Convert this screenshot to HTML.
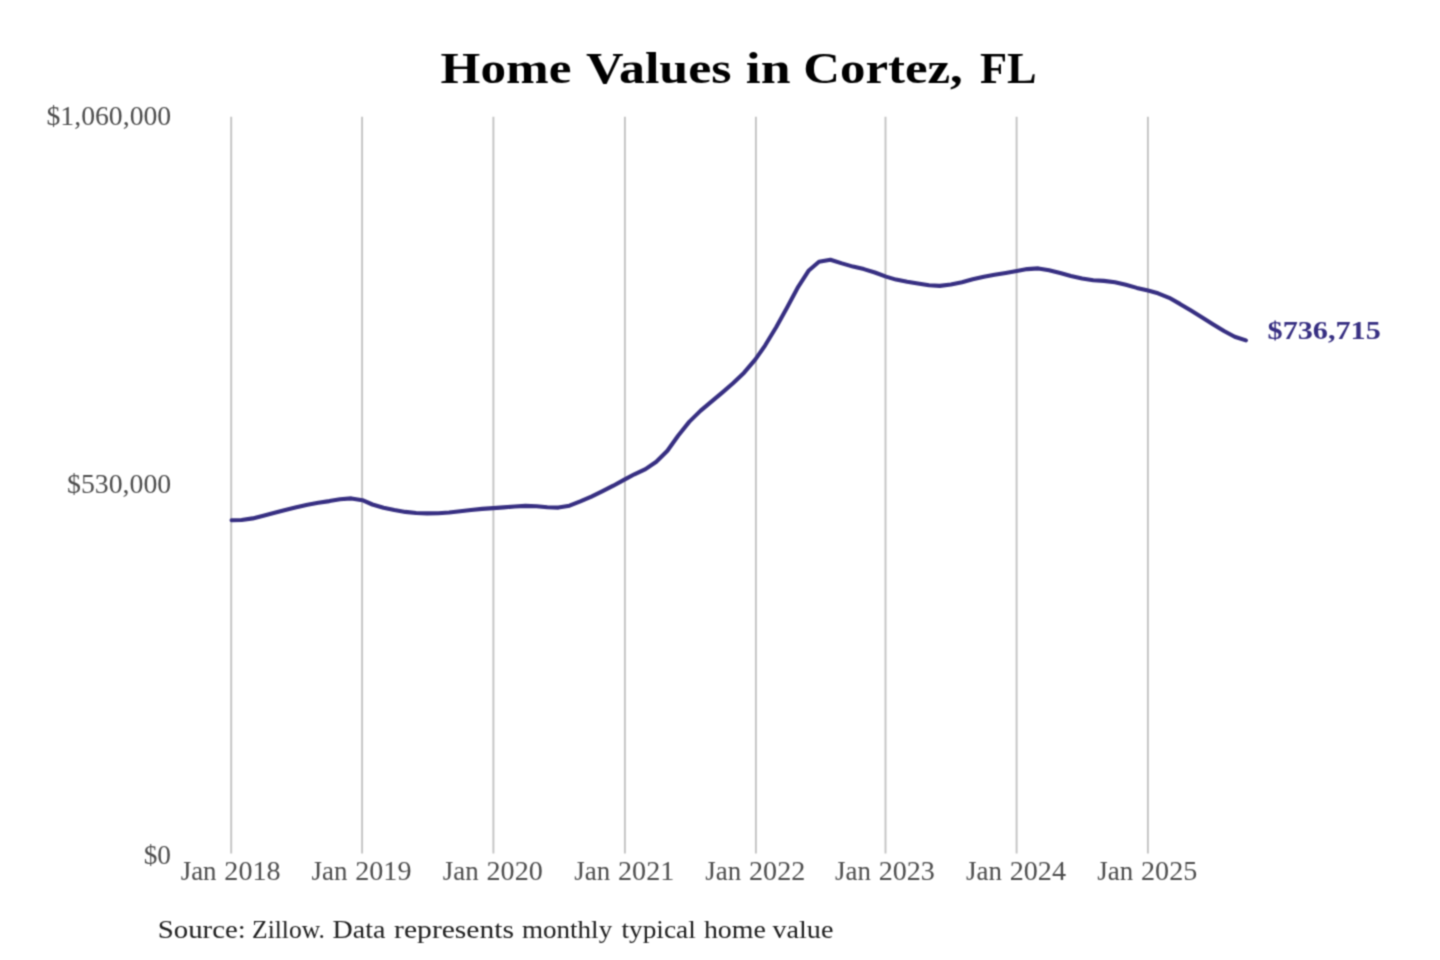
<!DOCTYPE html>
<html lang="en">
<head>
<meta charset="utf-8">
<title>Home Values in Cortez, FL</title>
<style>
  html, body { margin: 0; padding: 0; background: #ffffff; }
  body { width: 1440px; height: 960px; overflow: hidden; position: relative; font-family: "Liberation Serif", serif; }
  svg { display: block; position: absolute; left: 0; top: 0; }
  text { font-family: "Liberation Serif", serif; white-space: pre; }
  .grid line { stroke: #c3c3c3; stroke-width: 1.9; }
  .tick { fill: #4d4d4d; font-size: 26.5px; }
  .title { fill: #000000; font-weight: bold; font-size: 44px; }
  .src { fill: #202020; font-size: 26px; }
  .endlab { fill: #372f82; font-weight: bold; font-size: 25px; }
  .series { fill: none; stroke: #372f82; stroke-width: 4.1; stroke-linecap: round; stroke-linejoin: round; }
</style>
</head>
<body>
<svg width="1440" height="960" viewBox="0 0 1440 960">
  <defs>
    <!-- gentle 3x3 softening to mimic the resampled look of the source image -->
    <filter id="soft" x="0" y="0" width="1440" height="960" filterUnits="userSpaceOnUse" color-interpolation-filters="sRGB">
      <feConvolveMatrix order="3" kernelMatrix="0.0439 0.1217 0.0439 0.1217 0.3377 0.1217 0.0439 0.1217 0.0439" edgeMode="duplicate" preserveAlpha="true"/>
    </filter>
  </defs>
  <g filter="url(#soft)">
  <rect x="0" y="0" width="1440" height="960" fill="#ffffff"/>
  <!-- chart title -->
  <text class="title" y="82.6"><tspan x="440.63" textLength="130.72" lengthAdjust="spacingAndGlyphs">Home</tspan> <tspan x="586.11" textLength="145.48" lengthAdjust="spacingAndGlyphs">Values</tspan> <tspan x="745.78" textLength="44.78" lengthAdjust="spacingAndGlyphs">in</tspan> <tspan x="803.20" textLength="159.64" lengthAdjust="spacingAndGlyphs">Cortez,</tspan> <tspan x="980.04" textLength="56.65" lengthAdjust="spacingAndGlyphs">FL</tspan></text>
  <!-- vertical year gridlines -->
  <g class="grid">
    <line x1="231.2" y1="116.7" x2="231.2" y2="853.5"/>
    <line x1="362.1" y1="116.7" x2="362.1" y2="853.5"/>
    <line x1="493.4" y1="116.7" x2="493.4" y2="853.5"/>
    <line x1="624.9" y1="116.7" x2="624.9" y2="853.5"/>
    <line x1="755.9" y1="116.7" x2="755.9" y2="853.5"/>
    <line x1="885.5" y1="116.7" x2="885.5" y2="853.5"/>
    <line x1="1016.6" y1="116.7" x2="1016.6" y2="853.5"/>
    <line x1="1147.9" y1="116.7" x2="1147.9" y2="853.5"/>
  </g>
  <!-- y axis labels -->
  <g class="tick">
    <text y="124.7"><tspan x="46.49" textLength="124.75" lengthAdjust="spacingAndGlyphs">$1,060,000</tspan></text>
    <text y="492.7"><tspan x="66.99" textLength="104.19" lengthAdjust="spacingAndGlyphs">$530,000</tspan></text>
    <text y="863.9"><tspan x="143.71" textLength="27.32" lengthAdjust="spacingAndGlyphs">$0</tspan></text>
  </g>
  <!-- x axis labels -->
  <g class="tick">
    <text y="879.8"><tspan x="180.69" textLength="35.84" lengthAdjust="spacingAndGlyphs">Jan</tspan> <tspan x="224.37" textLength="56.19" lengthAdjust="spacingAndGlyphs">2018</tspan></text>
    <text y="879.8"><tspan x="311.59" textLength="35.84" lengthAdjust="spacingAndGlyphs">Jan</tspan> <tspan x="355.27" textLength="56.19" lengthAdjust="spacingAndGlyphs">2019</tspan></text>
    <text y="879.8"><tspan x="442.89" textLength="35.84" lengthAdjust="spacingAndGlyphs">Jan</tspan> <tspan x="486.57" textLength="56.19" lengthAdjust="spacingAndGlyphs">2020</tspan></text>
    <text y="879.8"><tspan x="574.39" textLength="35.84" lengthAdjust="spacingAndGlyphs">Jan</tspan> <tspan x="618.07" textLength="56.19" lengthAdjust="spacingAndGlyphs">2021</tspan></text>
    <text y="879.8"><tspan x="705.39" textLength="35.84" lengthAdjust="spacingAndGlyphs">Jan</tspan> <tspan x="749.07" textLength="56.19" lengthAdjust="spacingAndGlyphs">2022</tspan></text>
    <text y="879.8"><tspan x="834.99" textLength="35.84" lengthAdjust="spacingAndGlyphs">Jan</tspan> <tspan x="878.67" textLength="56.19" lengthAdjust="spacingAndGlyphs">2023</tspan></text>
    <text y="879.8"><tspan x="966.09" textLength="35.84" lengthAdjust="spacingAndGlyphs">Jan</tspan> <tspan x="1009.77" textLength="56.19" lengthAdjust="spacingAndGlyphs">2024</tspan></text>
    <text y="879.8"><tspan x="1097.39" textLength="35.84" lengthAdjust="spacingAndGlyphs">Jan</tspan> <tspan x="1141.07" textLength="56.19" lengthAdjust="spacingAndGlyphs">2025</tspan></text>
  </g>
  <!-- home value series (monthly points) -->
  <path class="series" d="M231.6,520.3 L241.6,520.0 L252.7,518.4 L263.4,515.7 L274.6,512.8 L285.3,510.0 L296.4,507.3 L307.5,504.7 L318.3,502.8 L329.4,501.1 L340.1,499.2 L351.3,498.4 L362.4,500.2 L372.4,504.5 L383.5,507.8 L394.3,510.1 L405.4,511.9 L416.1,513.0 L427.2,513.4 L438.4,513.2 L449.1,512.5 L460.2,511.3 L471.0,510.0 L482.1,508.9 L493.2,508.1 L503.6,507.4 L514.7,506.5 L525.4,505.9 L536.6,506.2 L547.3,507.2 L558.4,507.6 L569.5,505.7 L580.3,501.4 L591.4,496.6 L602.1,491.4 L613.3,485.7 L624.4,479.6 L634.4,474.3 L645.5,469.1 L656.3,461.7 L667.4,450.7 L678.1,435.7 L689.2,421.9 L700.4,410.9 L711.1,401.9 L722.2,392.6 L733.0,383.2 L744.1,372.7 L755.2,359.6 L765.2,345.3 L776.3,327.0 L787.1,307.6 L798.2,286.8 L808.5,270.8 L819.0,261.8 L830.4,259.8 L841.9,263.4 L853.0,266.6 L863.8,269.1 L874.9,272.5 L886.0,276.6 L896.0,279.6 L907.2,281.8 L917.9,283.6 L929.0,285.3 L939.8,285.9 L950.9,284.5 L962.0,282.2 L972.7,279.3 L983.9,276.7 L994.6,274.7 L1005.7,272.9 L1016.8,271.0 L1027.2,269.1 L1038.3,268.4 L1049.1,270.3 L1060.2,273.0 L1070.9,275.9 L1082.1,278.4 L1093.2,280.2 L1103.9,280.9 L1115.0,282.3 L1125.8,284.8 L1136.9,287.9 L1148.0,290.6 L1158.0,293.3 L1169.2,297.8 L1179.9,303.9 L1191.0,310.6 L1201.8,317.3 L1212.9,324.3 L1224.0,331.0 L1234.7,336.7 L1245.9,340.4"/>
  <text class="endlab" y="338.7"><tspan x="1267.59" textLength="113.22" lengthAdjust="spacingAndGlyphs">$736,715</tspan></text>
  <!-- footnote -->
  <text class="src" y="938.3"><tspan x="157.76" textLength="87.94" lengthAdjust="spacingAndGlyphs">Source:</tspan> <tspan x="252.07" textLength="72.84" lengthAdjust="spacingAndGlyphs">Zillow.</tspan> <tspan x="332.49" textLength="52.88" lengthAdjust="spacingAndGlyphs">Data</tspan> <tspan x="394.13" textLength="119.90" lengthAdjust="spacingAndGlyphs">represents</tspan> <tspan x="521.98" textLength="90.20" lengthAdjust="spacingAndGlyphs">monthly</tspan> <tspan x="621.44" textLength="74.40" lengthAdjust="spacingAndGlyphs">typical</tspan> <tspan x="703.93" textLength="61.89" lengthAdjust="spacingAndGlyphs">home</tspan> <tspan x="772.50" textLength="60.88" lengthAdjust="spacingAndGlyphs">value</tspan></text>
  </g>
</svg>
</body>
</html>
